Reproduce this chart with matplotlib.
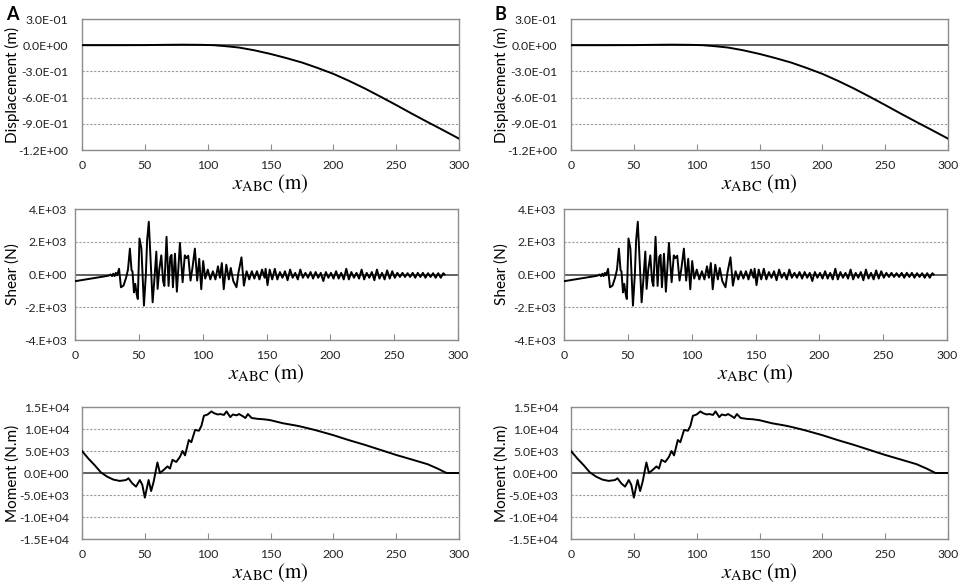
import matplotlib.pyplot as plt
import numpy as np

plt.rcParams['font.family'] = ['Lato', 'DejaVu Sans']
plt.rcParams['mathtext.fontset'] = 'stix'

########## Data (same for both panels A and B)
# Displacement (m)
disp_x = [0, 25, 50, 65, 80, 95, 105, 115, 125, 137, 150, 162, 175, 187, 200,
          212, 225, 237, 250, 262, 275, 287, 300]
disp_y = [0.0, 0.0, 0.001, 0.004, 0.006, 0.004, 0.0, -0.012, -0.027, -0.058,
          -0.100, -0.145, -0.198, -0.258, -0.328, -0.405, -0.495, -0.585,
          -0.685, -0.780, -0.880, -0.970, -1.070]

# Shear (N)
shear_x = [0, 10, 20, 25, 27, 28, 29, 30, 31, 32, 33, 34.5, 36, 38, 40, 41.5,
           43, 44.3, 45, 46.2, 47.2, 48.3, 49.2, 50.5, 52, 54, 55.5, 56.5,
           57.8, 59.2, 60.8, 62, 63.7, 64.7, 66, 67.6, 69, 70, 71.7, 73.3,
           74.6, 75.6, 76.7, 78.3, 79.8, 82.2, 84.3, 86, 87.2, 88.7, 90.5,
           92, 93.9, 95.7, 97.3, 98.9, 100.4, 102, 104, 106, 108, 110, 112,
           113.5, 115, 116.5, 118.5, 120.5, 122, 124, 126.5, 128, 130.4,
           132.3, 134.4, 136.5, 138.5, 140.5, 142.5, 144.5, 146.5, 148.5,
           149.3, 150.8, 152.5, 154.5, 156.5, 158.5, 160.5, 162.5, 164.5,
           166.5, 168.5, 170.5, 172.5, 174.5, 176.5, 178.5, 180.5, 182.5,
           184.5, 186.5, 188.5, 190.5, 192.5, 194.5, 196.5, 198.5, 200.5,
           202.5, 204.5, 206.5, 208.5, 210.5, 212.5, 214.5, 216.5, 218.5,
           220.5, 222.5, 224.5, 226.5, 228.5, 230.5, 232.5, 234.5, 236.5,
           238.5, 240.5, 242.5, 244.5, 246.5, 248.5, 250.5, 252.5, 254.5,
           256.5, 258.5, 260.5, 262.5, 264.5, 266.5, 268.5, 270.5, 272.5,
           274.5, 276.5, 278.5, 280.5, 282.5, 284.5, 286.5, 288.5, 289.5]
shear_y = [-410, -280, -150, -90, -50, 0, -100, 50, -100, 100, -50, 350, -780,
           -680, -200, 300, 1580, 250, 200, -1090, -570, -1190, -1500, 2200,
           1600, -1900, 0, 2100, 3220, 900, -1700, -500, 1400, -880, 300,
           1170, -400, -700, 2300, -700, 1070, 1200, -780, 1270, -1050, 1930,
           -470, 1170, 1000, 1150, -370, 400, 1580, -370, 960, -900, 820,
           -250, 300, -300, 200, -300, 500, -200, 700, -900, 600, -300, 400,
           -400, -780, 100, 1050, -680, 200, -300, 200, -250, 200, -300, 300,
           -200, 350, -650, 300, -300, 350, -300, 150, -200, 200, -350, 300,
           -200, 100, -300, 300, -200, 100, -200, 150, -250, 150, -200, 100,
           -400, 150, -200, 100, -250, 200, -250, 100, -300, 350, -300, 150,
           -200, 100, -250, 300, -300, 100, -200, 150, -350, 300, -250, 100,
           -300, 250, -250, 200, -200, 100, -150, 100, -150, 80, -150, 100,
           -200, 100, -150, 100, -200, 80, -150, 80, -200, 80, -200, 80, 0]

# Moment (N.m)
mom_x = [0, 5, 10, 15, 20, 25, 30, 35, 37, 40, 43, 46, 48, 50, 53, 55, 57, 60,
         62, 65, 68, 70, 72, 75, 78, 80, 82, 85, 87, 90, 93, 95, 97, 100, 103,
         105, 108, 110, 113, 115, 118, 120, 123, 125, 128, 130, 132, 135, 140,
         145, 150, 160, 170, 175, 185, 200, 212, 225, 237, 250, 262, 275, 283,
         290, 300]
mom_y = [5000, 3300, 1800, 150, -830, -1500, -1800, -1600, -1200, -2350,
         -3100, -1600, -2700, -5600, -1600, -4100, -2000, 2400, 0, 700, 1500,
         1000, 3000, 2500, 3700, 5000, 4000, 7500, 7000, 9800, 9600, 10700,
         13000, 13300, 14000, 13600, 13300, 13400, 13200, 14000, 12700, 13300,
         13100, 13400, 12900, 12500, 13400, 12500, 12300, 12200, 12000, 11300,
         10800, 10500, 9800, 8600, 7500, 6400, 5300, 4100, 3100, 2000, 1000,
         0, 0]

disp_ticks = [0.3, 0.0, -0.3, -0.6, -0.9, -1.2]
disp_labels = ["3.0E-01", "0.0E+00", "-3.0E-01", "-6.0E-01", "-9.0E-01", "-1.2E+00"]
shear_ticks = [4000, 2000, 0, -2000, -4000]
shear_labels = ["4.E+03", "2.E+03", "0.E+00", "-2.E+03", "-4.E+03"]
mom_ticks = [15000, 10000, 5000, 0, -5000, -10000, -15000]
mom_labels = ["1.5E+04", "1.0E+04", "5.0E+03", "0.0E+00", "-5.0E+03", "-1.0E+04", "-1.5E+04"]
x_ticks = [0, 50, 100, 150, 200, 250, 300]

W, H = 963, 585
fig = plt.figure(figsize=(W / 100, H / 100), dpi=100)


def make_ax(left, right, top, bottom):
    return fig.add_axes([left / W, 1 - bottom / H, (right - left) / W, (bottom - top) / H])


def style(ax, x, y, ticks, labels, ylabel, pad, left, right):
    ax.plot(x, y, color='black', linewidth=1.4, zorder=3)
    ax.axhline(0, color='#555555', linewidth=1.3, zorder=2)
    for t in ticks:
        if t != 0:
            ax.axhline(t, color='#9a9a9a', linewidth=0.8, linestyle=(0, (2, 1.5)), zorder=1)
    ax.set_xlim(0, 300)
    ax.set_ylim(min(ticks), max(ticks))
    ax.set_xticks(x_ticks)
    ax.set_yticks(ticks)
    ax.set_yticklabels(labels)
    ax.tick_params(axis='y', length=0, pad=pad, labelsize=8.8, labelcolor='#222222')
    ax.tick_params(axis='x', direction='in', length=4, color='#8c8c8c', pad=7,
                   labelsize=8.8, labelcolor='#222222')
    for s in ax.spines.values():
        s.set_color('#8c8c8c')
        s.set_linewidth(1.0)
    ax.set_ylabel(ylabel, fontsize=11)
    # right edge of the rotated label ~20 px from the image's left border
    ax.yaxis.set_label_coords(-(left - 20) / (right - left), 0.5)
    ax.set_xlabel(r'$x_{\mathrm{ABC}}\ (\mathrm{m})$', fontsize=15, labelpad=1)


for dx, letter in [(0, 'A'), (489, 'B')]:
    ax1 = make_ax(82 + dx, 459 + dx, 19, 150)
    style(ax1, disp_x, disp_y, disp_ticks, disp_labels, "Displacement (m)", 10, 82, 459)
    ax2 = make_ax(75 + dx, 458 + dx, 209, 340)
    style(ax2, shear_x, shear_y, shear_ticks, shear_labels, "Shear (N)", 6, 75, 458)
    ax3 = make_ax(82 + dx, 459 + dx, 407, 539)
    style(ax3, mom_x, mom_y, mom_ticks, mom_labels, "Moment (N.m)", 9, 82, 459)
    fig.text((6 + dx) / W, 1 - 14 / H, letter, fontsize=13, fontweight='bold',
             va='center', ha='left')

fig.savefig("out.png", dpi=100)
